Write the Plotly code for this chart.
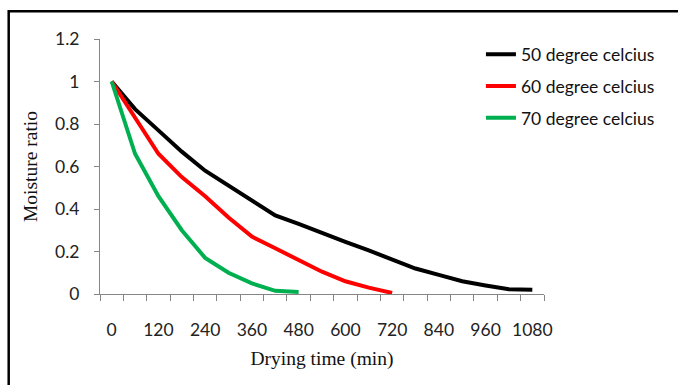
import plotly.graph_objects as go

time_min = [0, 60, 120, 180, 240, 300, 360, 420, 480, 540, 600, 660, 720,
            780, 840, 900, 960, 1020, 1080]
mr_50 = [1.0, 0.87, 0.77, 0.67, 0.58, 0.51, 0.44, 0.37, 0.33, 0.285, 0.245,
         0.205, 0.16, 0.12, 0.09, 0.06, 0.04, 0.022, 0.02]
mr_60 = [1.0, 0.83, 0.66, 0.55, 0.46, 0.36, 0.27, 0.215, 0.16, 0.105, 0.06,
         0.03, 0.005]
mr_70 = [1.0, 0.66, 0.46, 0.30, 0.17, 0.10, 0.05, 0.015, 0.01]

series_names = ["50 degree celcius", "60 degree celcius", "70 degree celcius"]
series_colors = ["#000000", "#FF0000", "#00B050"]
tick_labels = [0, 120, 240, 360, 480, 600, 720, 840, 960, 1080]
y_ticks = [0, 0.2, 0.4, 0.6, 0.8, 1, 1.2]

fig = go.Figure()
for i, (vals, name, col) in enumerate(zip([mr_50, mr_60, mr_70], series_names, series_colors)):
    fig.add_trace(go.Scatter(
        x=time_min[:len(vals)], y=vals, mode="lines", name=name,
        legendgroup=f"g{i}",
        line=dict(color=col, width=4),
    ))

tick_font = dict(family="Lato, Open Sans, sans-serif", size=17.5, color="#222222")
title_font = dict(family="Liberation Serif, Times New Roman, serif", size=19.5, color="#111111")

fig.update_layout(
    width=678, height=385,
    margin=dict(l=100, r=134, t=39, b=90.7, pad=0),
    paper_bgcolor="white", plot_bgcolor="white",
    showlegend=True,
    legend=dict(
        x=0.858, xanchor="left", y=1.01, yanchor="top",
        font=dict(family="Lato, Open Sans, sans-serif", size=17.5, color="#111111"),
        tracegroupgap=6, bgcolor="rgba(0,0,0,0)", itemwidth=30,
    ),
    xaxis=dict(
        range=[-30, 1110], showgrid=False, zeroline=False,
        showline=True, linecolor="#868686", linewidth=1,
        tickmode="array", tickvals=tick_labels,
        ticktext=[str(t) for t in tick_labels],
        ticks="", ticklabelstandoff=20, tickfont=tick_font,
        minor=dict(tickmode="linear", tick0=-30, dtick=60, ticks="outside",
                   ticklen=6, tickcolor="#868686", showgrid=False),
        title=dict(text="Drying time (min)", standoff=12, font=title_font),
    ),
    yaxis=dict(
        range=[0, 1.2], showgrid=False, zeroline=False,
        showline=True, linecolor="#868686", linewidth=1,
        tickmode="array", tickvals=y_ticks,
        ticktext=["0", "0.2", "0.4", "0.6", "0.8", "1", "1.2"],
        ticks="outside", ticklen=5, tickcolor="#868686",
        ticklabelstandoff=11, tickfont=tick_font,
        title=dict(text="Moisture ratio", standoff=12, font=title_font),
    ),
    shapes=[dict(type="rect", xref="paper", yref="paper",
                 x0=(8.7 - 100) / 444, x1=1.5,
                 y0=-1.0, y1=(294.3 - 11.3) / 255.3,
                 line=dict(color="#000000", width=2.5), fillcolor="rgba(0,0,0,0)",
                 layer="above")],
)

fig.write_html("out.html", config={"displayModeBar": False})
